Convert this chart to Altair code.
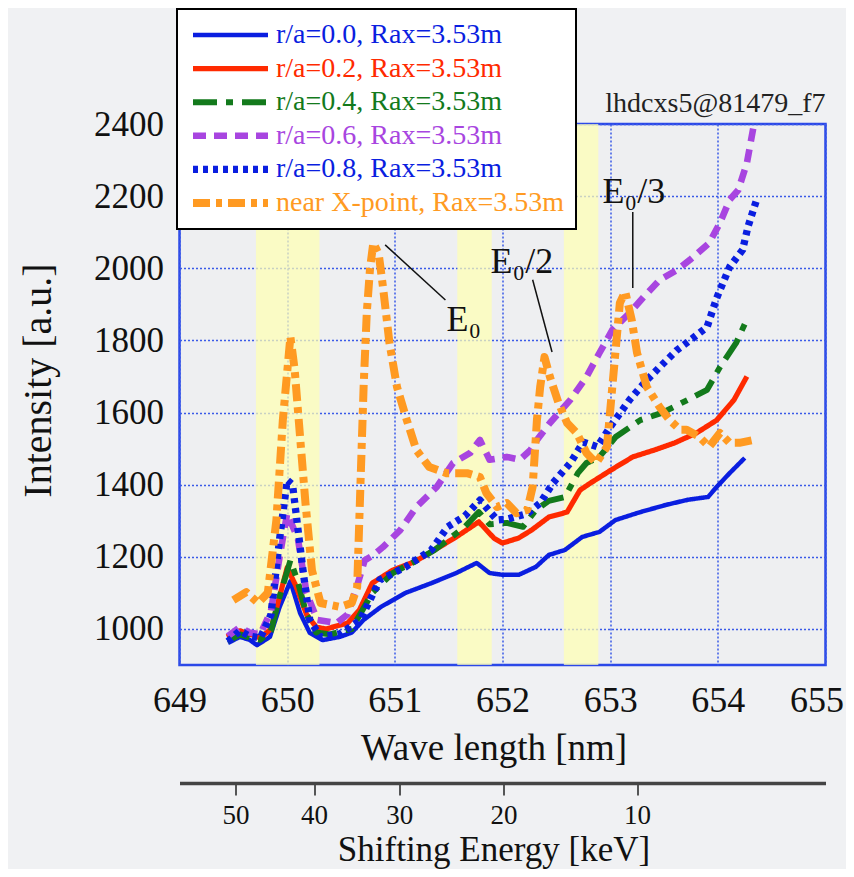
import altair as alt
import pandas as pd

# ---------------- data ----------------
series_names = [
    "r/a=0.0, Rax=3.53m",
    "r/a=0.2, Rax=3.53m",
    "r/a=0.4, Rax=3.53m",
    "r/a=0.6, Rax=3.53m",
    "r/a=0.8, Rax=3.53m",
    "near X-point, Rax=3.53m",
]
series_colors = ["#0a1ee0", "#ff2a00", "#137a1c", "#a845e0", "#0a1ee0", "#ff9a22"]
series_dash = [[1, 0], [1, 0], [24, 9, 7, 9], [13, 8], [5, 5], [17, 6, 6, 6]]
series_width = [4.5, 8, 5, 5, 5, 5]

lam_00 = [649.45, 649.56, 649.65, 649.72, 649.84, 649.93, 650.03, 650.12, 650.21, 650.33,
          650.49, 650.6, 650.71, 650.87, 651.10, 651.34, 651.57, 651.76, 651.88, 652.0,
          652.15, 652.31, 652.43, 652.58, 652.74, 652.9, 653.05, 653.28, 653.52, 653.72,
          653.91, 653.99, 654.11, 654.25]
int_00 = [961, 978, 970, 955, 978, 1061, 1132, 1044, 989, 969,
          978, 990, 1025, 1061, 1100, 1127, 1155, 1183, 1155, 1150,
          1150, 1172, 1205, 1219, 1255, 1269, 1302, 1324, 1344, 1358,
          1366, 1394, 1432, 1474]

lam_02 = [649.44, 649.56, 649.66, 649.75, 649.85, 649.93, 650.0, 650.08, 650.18, 650.27,
          650.36, 650.56, 650.67, 650.79, 650.98, 651.18, 651.37, 651.57, 651.78, 651.92,
          652.0, 652.15, 652.27, 652.43, 652.6, 652.72, 652.82, 653.01, 653.21, 653.41,
          653.6, 653.8, 653.99, 654.15, 654.27]
int_02 = [978, 995, 985, 975, 1000, 1090, 1170, 1120, 1040, 1005,
          1000, 1016, 1052, 1127, 1163, 1186, 1219, 1255, 1297, 1252,
          1238, 1252, 1274, 1310, 1324, 1385, 1405, 1441, 1477, 1496,
          1516, 1543, 1579, 1635, 1700]

lam_04 = [649.45, 649.56, 649.66, 649.75, 649.85, 649.93, 650.03, 650.1, 650.18, 650.27,
          650.4, 650.6, 650.79, 650.98, 651.18, 651.37, 651.65, 651.78, 651.88, 652.04,
          652.19, 652.31, 652.43, 652.58, 652.7, 652.78, 652.9, 653.05, 653.28, 653.48,
          653.72, 653.9, 654.02, 654.17, 654.28]
int_04 = [965, 985, 975, 970, 995, 1090, 1190, 1130, 1040, 990,
          985, 1000, 1100, 1155, 1186, 1219, 1283, 1324, 1290, 1294,
          1283, 1330, 1355, 1366, 1432, 1460, 1477, 1532, 1579, 1599,
          1635, 1663, 1726, 1793, 1865]

lam_06 = [649.45, 649.56, 649.65, 649.75, 649.85, 649.93, 650.0, 650.1, 650.18, 650.28,
          650.46, 650.56, 650.65, 650.72, 650.8, 650.89, 651.05, 651.2, 651.39, 651.54,
          651.7, 651.79, 651.88, 652.04, 652.16, 652.26, 652.32, 652.44, 652.63, 652.78,
          652.9, 653.02, 653.18, 653.31, 653.46, 653.62, 653.74, 653.92, 654.02, 654.11,
          654.19, 654.27, 654.33]
int_06 = [980, 1005, 990, 985, 1050, 1200, 1320, 1250, 1100, 1025,
          1016, 1040, 1120, 1190, 1205, 1227, 1274, 1338, 1394, 1460,
          1488, 1524, 1469, 1477, 1469, 1496, 1524, 1571, 1635, 1699,
          1765, 1829, 1876, 1920, 1968, 1995, 2023, 2070, 2126, 2190,
          2217, 2292, 2390]

lam_08 = [649.45, 649.56, 649.65, 649.75, 649.85, 649.93, 650.0, 650.05, 650.09, 650.15,
          650.21, 650.31, 650.49, 650.68, 650.86, 651.1, 651.34, 651.49, 651.65, 651.79,
          651.95, 652.05, 652.23, 652.35, 652.47, 652.63, 652.75, 652.88, 653.0, 653.18,
          653.34, 653.46, 653.62, 653.71, 653.9, 653.99, 654.11, 654.23, 654.28, 654.36]
int_08 = [965, 995, 980, 975, 1040, 1250, 1413, 1400, 1302, 1155,
          1025, 978, 986, 1025, 1136, 1172, 1219, 1283, 1313, 1357,
          1302, 1305, 1320, 1349, 1405, 1460, 1518, 1505, 1560, 1635,
          1690, 1726, 1773, 1793, 1837, 1918, 2004, 2051, 2115, 2190]

lam_xp = [649.5, 649.62, 649.73, 649.82, 649.9, 649.96, 650.03, 650.07, 650.12, 650.17,
          650.23, 650.31, 650.49, 650.6, 650.65, 650.68, 650.71, 650.74, 650.77, 650.8,
          650.85, 650.89, 650.95, 651.02, 651.11, 651.2, 651.32, 651.48, 651.67, 651.79,
          651.85, 651.95, 652.04, 652.13, 652.23, 652.28, 652.32, 652.35, 652.39, 652.44,
          652.52, 652.6, 652.69, 652.78, 652.87, 652.97, 653.02, 653.09, 653.14, 653.2,
          653.25, 653.34, 653.46, 653.55, 653.65, 653.71, 653.83, 653.92, 654.02, 654.11,
          654.2, 654.33]
int_xp = [1080, 1102, 1072, 1100, 1302, 1580, 1810, 1718, 1532, 1349,
          1163, 1072, 1061, 1072, 1116, 1394, 1671, 1880, 2000, 2070,
          2040, 1948, 1793, 1671, 1580, 1496, 1449, 1432, 1432, 1421,
          1377, 1338, 1349, 1321, 1330, 1394, 1580, 1671, 1754, 1699,
          1627, 1571, 1543, 1488, 1460, 1505, 1671, 1904, 1935, 1857,
          1765, 1671, 1615, 1580, 1552, 1552, 1532, 1505, 1543, 1516,
          1516, 1524]

all_lams = [lam_00, lam_02, lam_04, lam_06, lam_08, lam_xp]
all_ints = [int_00, int_02, int_04, int_06, int_08, int_xp]

# highlighted wavelength bands
band_start = [649.71, 651.58, 652.57]
band_end = [650.30, 651.90, 652.89]

# axis ticks
x_ticks = [649, 650, 651, 652, 653, 654, 655]
y_ticks = [1000, 1200, 1400, 1600, 1800, 2000, 2200, 2400]
energy_labels = [50, 40, 30, 20, 10]
energy_positions = [649.52, 650.25, 651.04, 652.01, 653.25]

# annotations (text in data units, leader lines in data units)
ann_text = ["E₀", "E₀/2", "E₀/3"]
ann_text_x = [651.64, 652.18, 653.22]
ann_text_y = [1857, 2018, 2212]
ann_line_x1 = [650.91, 652.28, 653.21]
ann_line_y1 = [2065, 1968, 2156]
ann_line_x2 = [651.47, 652.46, 653.21]
ann_line_y2 = [1912, 1768, 1945]

caption = "lhdcxs5@81479_f7"

# ---------------- frames ----------------
rows = []
for name, lams, vals in zip(series_names, all_lams, all_ints):
    for i, (l, v) in enumerate(zip(lams, vals)):
        rows.append({"series": name, "lam": l, "val": v, "idx": i})
df = pd.DataFrame(rows)
bands = pd.DataFrame({"start": band_start, "end": band_end})
ann_t = pd.DataFrame({"t": ann_text, "x": ann_text_x, "y": ann_text_y})
ann_l = pd.DataFrame({"x1": ann_line_x1, "y1": ann_line_y1, "x2": ann_line_x2, "y2": ann_line_y2})
energy = pd.DataFrame({"pos": energy_positions, "e": energy_labels})
cap = pd.DataFrame({"t": [caption]})

FONT = "Liberation Serif"
GRID = "#3a5ae8"

xscale = alt.Scale(domain=[649, 655], nice=False, zero=False)
yscale = alt.Scale(domain=[900, 2400], nice=False, zero=False)

x_axis = alt.Axis(
    values=x_ticks, title="Wave length [nm]", grid=True, gridColor=GRID,
    gridDash=[2, 2], gridWidth=1.5, domain=False, ticks=False, tickSize=0,
    labelFont=FONT, labelFontSize=36, labelColor="#111", labelPadding=35,
    labelBaseline="middle", labelFlush=False, labelOverlap=False, format="d",
    labelOffset={"condition": {"test": "datum.value >= 655", "value": -9}, "value": 0},
    titleFont=FONT, titleFontSize=37, titleFontWeight="normal", titleColor="#111",
    titleX=314, titleY=83, titleBaseline="middle", titleAlign="center",
)
y_axis = alt.Axis(
    values=y_ticks, title="Intensity [a.u.]", grid=True, gridColor=GRID,
    gridDash=[2, 2], gridWidth=1.5, domain=False, ticks=False, tickSize=0,
    labelFont=FONT, labelFontSize=35, labelColor="#111", labelPadding=16,
    labelBaseline="middle", labelFlush=False, labelOverlap=False, format="d",
    titleFont=FONT, titleFontSize=40, titleFontWeight="normal", titleColor="#111",
    titleX=-141, titleY=256, titleAngle=-90, titleBaseline="middle", titleAlign="center",
)

band_layer = alt.Chart(bands).mark_rect(color="#ffffb4", opacity=0.72).encode(
    x=alt.X("start:Q", scale=xscale, axis=x_axis),
    x2="end:Q",
)

leg = alt.Legend(
    title=None, orient="none", legendX=-2.5, legendY=-115,
    symbolType="stroke", symbolSize=5625, clipHeight=28, rowPadding=5.6,
    labelFont=FONT, labelFontSize=28, labelOffset=4,
    labelColor={"expr": "scale('color', datum.value)"},
    fillColor="white", strokeColor="black", padding=12,
    labelLimit=400,
)

line_layer = alt.Chart(df).mark_line(strokeCap="butt", strokeJoin="round").encode(
    x=alt.X("lam:Q", scale=xscale, axis=x_axis),
    y=alt.Y("val:Q", scale=yscale, axis=y_axis),
    color=alt.Color("series:N", scale=alt.Scale(domain=series_names, range=series_colors), legend=leg),
    strokeDash=alt.StrokeDash("series:N", scale=alt.Scale(domain=series_names, range=series_dash), legend=leg),
    strokeWidth=alt.StrokeWidth("series:N", scale=alt.Scale(domain=series_names, range=series_width), legend=leg),
    order="idx:Q",
)

ann_rule = alt.Chart(ann_l).mark_rule(color="#111", strokeWidth=1.5).encode(
    x=alt.X("x1:Q", scale=xscale, axis=x_axis),
    y=alt.Y("y1:Q", scale=yscale, axis=y_axis),
    x2="x2:Q", y2="y2:Q",
)
ann_txt = alt.Chart(ann_t).mark_text(font=FONT, fontSize=36, color="#111").encode(
    x=alt.X("x:Q", scale=xscale, axis=x_axis),
    y=alt.Y("y:Q", scale=yscale, axis=y_axis),
    text="t:N",
)
cap_txt = alt.Chart(cap).mark_text(font=FONT, fontSize=28, color="#222", align="right",
                                   baseline="middle").encode(
    x=alt.value(646), y=alt.value(-20), text="t:N"
)

main = alt.layer(band_layer, line_layer, ann_rule, ann_txt, cap_txt)

energy_expr = "[" + ",".join(str(e) for e in energy_labels) + "][indexof([" + \
    ",".join(str(p) for p in energy_positions) + "], datum.value)]"

energy_layer = alt.Chart(energy).mark_point(opacity=0).encode(
    x=alt.X("pos:Q", scale=xscale, axis=alt.Axis(
        orient="bottom", offset=118, values=energy_positions, labelExpr=energy_expr,
        grid=False, domainColor="#444", domainWidth=3.5, tickColor="#222", tickWidth=1.5,
        tickSize=12, labelFont=FONT, labelFontSize=27, labelColor="#111", labelPadding=20,
        labelBaseline="middle", labelFlush=False, labelOverlap=False,
        title="Shifting Energy [keV]", titleFont=FONT, titleFontSize=35,
        titleFontWeight="normal", titleColor="#111", titleX=314, titleY=66,
        titleBaseline="middle", titleAlign="center",
    )),
)

chart = alt.layer(main, energy_layer).resolve_scale(x="independent").properties(
    width=646, height=541,
    autosize=alt.AutoSizeParams(type="none"),
    padding={"left": 171.5, "top": 116, "right": 20, "bottom": 204},
    background="#f0f1f3",
).configure_view(stroke="#2b48e8", strokeWidth=2.5, fill="#eeeff1").configure_legend(
    strokeWidth=2
)

chart.save("out.html", embed_options={"renderer": "svg", "actions": False})
